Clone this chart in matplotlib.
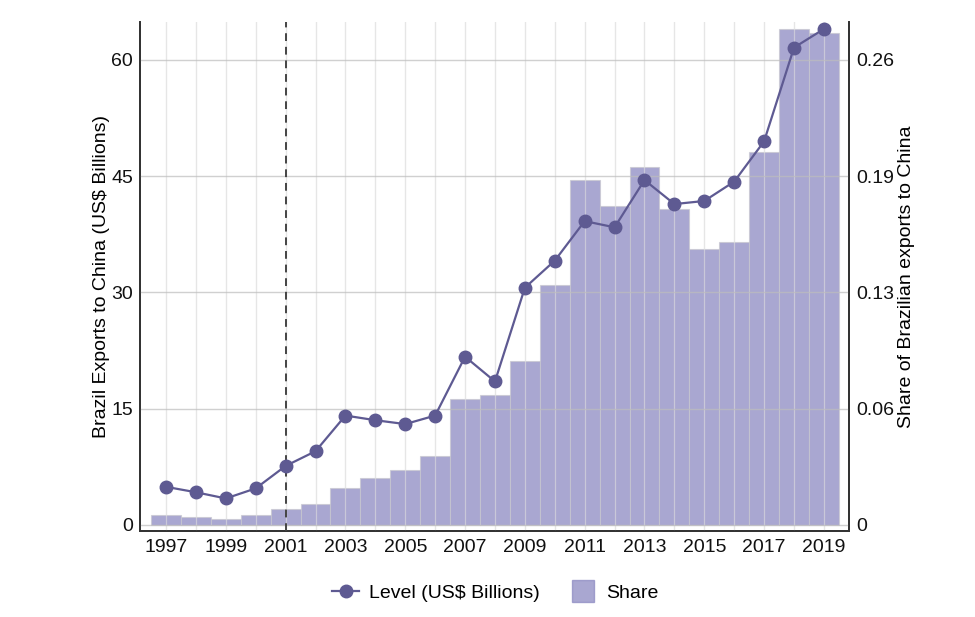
import numpy as np
import matplotlib
matplotlib.use("Agg")
import matplotlib.pyplot as plt
from matplotlib.lines import Line2D

plt.rcParams['font.family'] = ['Liberation Sans', 'DejaVu Sans']

years = list(range(1997, 2020))
level = [4.9, 4.2, 3.4, 4.7, 7.6, 9.5, 14.1, 13.5, 13.0, 14.1, 21.7, 18.5,
         30.6, 34.1, 39.2, 38.4, 44.5, 41.4, 41.8, 44.3, 49.5, 61.6, 64.0]
share = [0.0052, 0.0045, 0.0033, 0.0052, 0.0091, 0.0116, 0.0208, 0.0260,
         0.0308, 0.0386, 0.0705, 0.0724, 0.0919, 0.1339, 0.1928, 0.1785,
         0.2002, 0.1768, 0.1543, 0.1582, 0.2084, 0.2773, 0.2752]
left_ticks = [0, 15, 30, 45, 60]
right_ticks = ["0", "0.06", "0.13", "0.19", "0.26"]

line_color = "#5e5a92"
bar_color = "#8d8ac2"
k = 0.26 / 60

fig = plt.figure(figsize=(9.75, 6.17), dpi=100)
ax = fig.add_axes([0.1436, 0.1394, 0.7272, 0.8249])
ax2 = ax.twinx()

ylo, yhi = -0.8, 64.9
ax.set_xlim(1996.13, 2019.84)
ax.set_ylim(ylo, yhi)
ax2.set_ylim(ylo * k, yhi * k)

# bars on the share axis, behind the line
ax2.set_zorder(0)
ax.set_zorder(1)
ax.patch.set_visible(False)
ax2.bar(years, share, width=1.0, color=bar_color, alpha=0.75,
        edgecolor="#c8c8d0", linewidth=0.8, zorder=2)

for y in years:
    ax2.axvline(y, color="#e3e3e3", lw=0.9, zorder=3, alpha=0.6)
for t in left_ticks:
    ax2.axhline(t * k, color="#bdbdbd", lw=1.0, zorder=3, alpha=0.7)
for y in years:
    ax2.axvline(y, color="#ebebeb", lw=0.9, zorder=1)

ax.axvline(2001, color="#444444", lw=1.4, ls=(0, (4, 3)), zorder=4)
ax.plot(years, level, color=line_color, lw=1.6, marker="o", markersize=9,
        zorder=5)

ax.set_yticks(left_ticks)
ax.set_yticklabels([str(t) for t in left_ticks])
ax2.set_yticks([t * k for t in left_ticks])
ax2.set_yticklabels(right_ticks)
ax.set_xticks(years[::2])

for a in (ax, ax2):
    a.tick_params(length=0, labelsize=14, colors="#111111", pad=5)
    a.spines["top"].set_visible(False)
    for s in ("left", "right", "bottom"):
        a.spines[s].set_linewidth(1.3)
        a.spines[s].set_color("#333333")
ax.tick_params(axis="x", pad=6)

ax.set_ylabel("Brazil Exports to China (US$ Billions)", fontsize=14, labelpad=1)
ax2.set_ylabel("Share of Brazilian exports to China", fontsize=14, labelpad=3)

handles = [
    Line2D([], [], color=line_color, lw=1.6, marker="o", markersize=9),
    Line2D([], [], color=bar_color, alpha=0.75, ls="", marker="s", markersize=16),
]
fig.legend(handles, ["Level (US$ Billions)", "Share"], loc="center",
           bbox_to_anchor=(0.508, 0.039), ncol=2, frameon=False, fontsize=14,
           columnspacing=1.5, handlelength=1.4, handletextpad=0.5)

fig.savefig("out.png", dpi=100)
